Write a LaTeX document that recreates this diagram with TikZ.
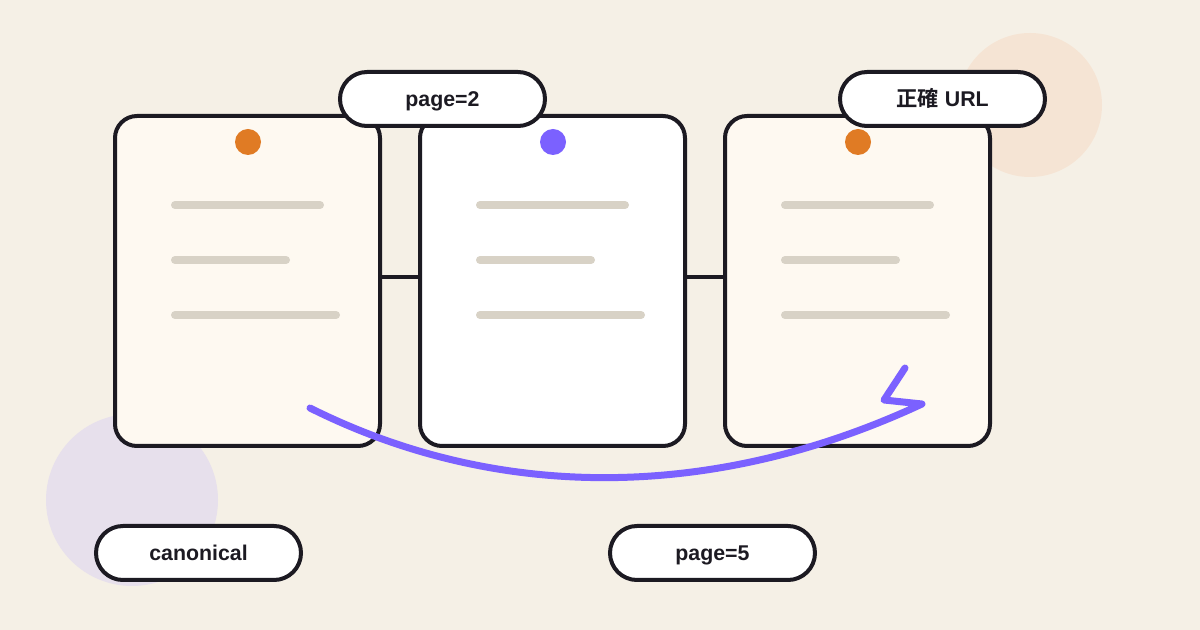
\documentclass[tikz,border=0pt]{standalone}
\usepackage{fontspec}
\setmainfont{Liberation Sans}
\newfontfamily\cjkfont{Noto Sans CJK TC}[BoldFont={* Bold}]
\definecolor{bg}{HTML}{F5F0E6}
\definecolor{ink}{HTML}{1C1A22}
\definecolor{cardfill}{HTML}{FEF9F1}
\definecolor{barc}{HTML}{D8D2C6}
\definecolor{orangedot}{HTML}{E07B24}
\definecolor{violet}{HTML}{7B61FF}
\definecolor{blobv}{HTML}{E7E0EC}
\definecolor{blobo}{HTML}{F5E4D4}
\tikzset{
  card/.style={draw=ink, line width=3pt, rounded corners=16.5pt, minimum width=198.75pt, minimum height=247.5pt, inner sep=0pt, outer sep=0pt},
  pill/.style={draw=ink, fill=white, line width=3pt, rounded corners=20.25pt, minimum width=153.75pt, minimum height=40.5pt, inner sep=0pt, text height=11.5pt, text depth=0pt, font=\fontsize{16pt}{18pt}\selectfont\bfseries, text=ink},
  bar/.style={barc, line width=6pt, line cap=round},
  link/.style={ink, line width=3pt},
  arc/.style={violet, line width=5.25pt, line cap=round, line join=round},
}
\begin{document}
\begin{tikzpicture}[x=0.75pt, y=-0.75pt]
\fill[bg] (0,0) rectangle (1200,630);
\useasboundingbox (0,0) rectangle (1200,630);
\fill[blobv] (132,500) circle (86);
\fill[blobo] (1030,105) circle (72);
% cards
\node[card, fill=cardfill] (card1) at (247.5,281) {};
\node[card, fill=white] (card2) at (552.5,281) {};
\node[card, fill=cardfill] (card3) at (857.5,281) {};
% links
\draw[link] ([yshift=3pt]card1.east) -- ([yshift=3pt]card2.west);
\draw[link] ([yshift=3pt]card2.east) -- ([yshift=3pt]card3.west);
% dots
\fill[orangedot] (248,142) circle (13);
\fill[violet] (553,142) circle (13);
\fill[orangedot] (858,142) circle (13);
% bars
\foreach \dx in {0,305,610}{
  \draw[bar] (175+\dx,205) -- (320+\dx,205);
  \draw[bar] (175+\dx,260) -- (286+\dx,260);
  \draw[bar] (175+\dx,315) -- (336+\dx,315);
}
% arc
\coordinate (a0) at (310,408);
\coordinate (a1) at (922,404);
\coordinate (h1) at (884,400);
\coordinate (h2) at (905,368);
\draw[arc] (a0) .. controls (500,503) and (716,500) .. (a1) -- (h1) -- (h2);
% labels
\node[pill] (lab1) at (442.5,99) {page=2};
\node[pill] (lab2) at (942.5,99) {{\cjkfont\bfseries 正確} URL};
\node[pill] (lab3) at (198.5,553) {canonical};
\node[pill] (lab4) at (712.5,553) {page=5};
\end{tikzpicture}
\end{document}
